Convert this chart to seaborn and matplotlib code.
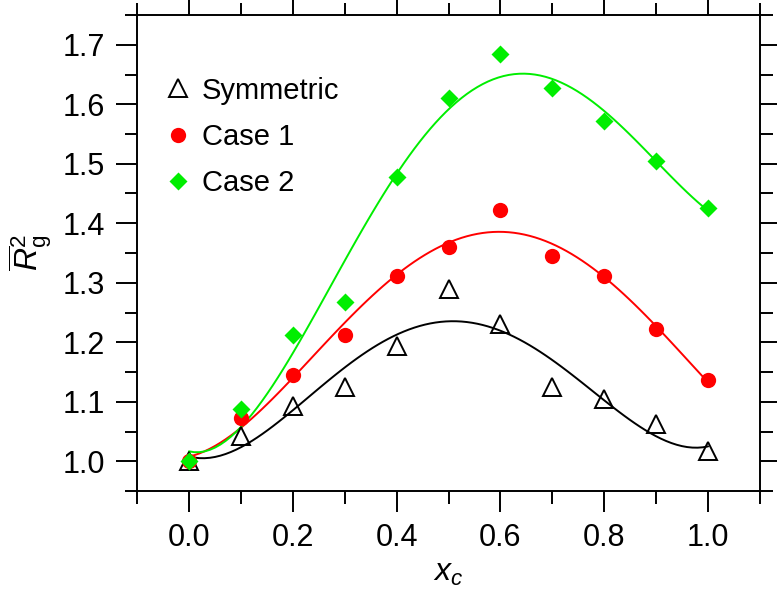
import numpy as np
import pandas as pd
import matplotlib
matplotlib.use("Agg")
import matplotlib.pyplot as plt
import seaborn as sns
from matplotlib.ticker import MultipleLocator

xc = [0.0, 0.1, 0.2, 0.3, 0.4, 0.5, 0.6, 0.7, 0.8, 0.9, 1.0]
symmetric = [1.000, 1.042, 1.093, 1.124, 1.193, 1.290, 1.231, 1.124, 1.104, 1.062, 1.018]
case1 = [1.000, 1.072, 1.145, 1.213, 1.311, 1.360, 1.422, 1.345, 1.311, 1.222, 1.136]
case2 = [1.000, 1.087, 1.212, 1.268, 1.477, 1.611, 1.684, 1.628, 1.572, 1.504, 1.426]
series_names = ["Symmetric", "Case 1", "Case 2"]

sns.set_theme(style="ticks")
plt.rcParams["font.family"] = ["Liberation Sans", "DejaVu Sans"]
plt.rcParams["mathtext.fontset"] = "custom"
plt.rcParams["mathtext.rm"] = "Liberation Sans"
plt.rcParams["mathtext.it"] = "Liberation Sans:italic"
plt.rcParams["mathtext.bf"] = "Liberation Sans:bold"
for k in ["text.color", "axes.labelcolor", "xtick.color", "ytick.color", "axes.edgecolor"]:
    plt.rcParams[k] = "black"

fig = plt.figure(figsize=(7.77, 5.92), dpi=100)
ax = fig.add_axes([137 / 777, 1 - 491 / 592, (760 - 137) / 777, (491 - 15) / 592])

df = pd.DataFrame({"xc": xc * 3,
                   "val": symmetric + case1 + case2,
                   "series": [s for s in series_names for _ in xc]})

colors = {"Symmetric": "black", "Case 1": "#ff0000", "Case 2": "#00ee00"}
order_fit = 4
for name in series_names:
    sub = df[df["series"] == name]
    sns.regplot(data=sub, x="xc", y="val", order=order_fit, ci=None, scatter=False,
                truncate=True, ax=ax, line_kws=dict(color=colors[name], lw=1.4))

sub = df[df["series"] == "Symmetric"]
ax.plot(sub["xc"], sub["val"], ls="none", marker="^", ms=13, mfc="none", mec="black",
        mew=1.4, label="Symmetric")
sub = df[df["series"] == "Case 1"]
ax.plot(sub["xc"], sub["val"], ls="none", marker="o", ms=11, mfc="#ff0000", mec="none",
        label="Case 1")
sub = df[df["series"] == "Case 2"]
ax.plot(sub["xc"], sub["val"], ls="none", marker="D", ms=9.5, mfc="#00ee00", mec="none",
        label="Case 2")

ax.set_xlim(-0.1, 1.1)
ax.set_ylim(0.95, 1.75)
ax.xaxis.set_major_locator(MultipleLocator(0.2))
ax.xaxis.set_minor_locator(MultipleLocator(0.1))
ax.yaxis.set_major_locator(MultipleLocator(0.1))
ax.yaxis.set_minor_locator(MultipleLocator(0.05))
ax.xaxis.set_major_formatter(matplotlib.ticker.FormatStrFormatter("%.1f"))
ax.yaxis.set_major_formatter(matplotlib.ticker.FormatStrFormatter("%.1f"))

ax.tick_params(which="both", direction="out", top=True, right=True,
               labeltop=False, labelright=False, color="black", width=1.4)
ax.tick_params(which="major", length=15, labelsize=22, pad=8)
ax.tick_params(which="minor", length=9)
for s in ax.spines.values():
    s.set_linewidth(1.4)
    s.set_color("black")

ax.set_xlabel(r"$x_c$", fontsize=23, labelpad=4)
ax.set_ylabel(r"$\overline{R}^2_{\mathrm{g}}$", fontsize=23, labelpad=6)

leg = ax.legend(loc="upper left", frameon=False, fontsize=21, handletextpad=0.3,
                handlelength=1.0, labelspacing=0.62, bbox_to_anchor=(0.024, 0.895),
                borderaxespad=0)

fig.savefig("out.png", dpi=100)
